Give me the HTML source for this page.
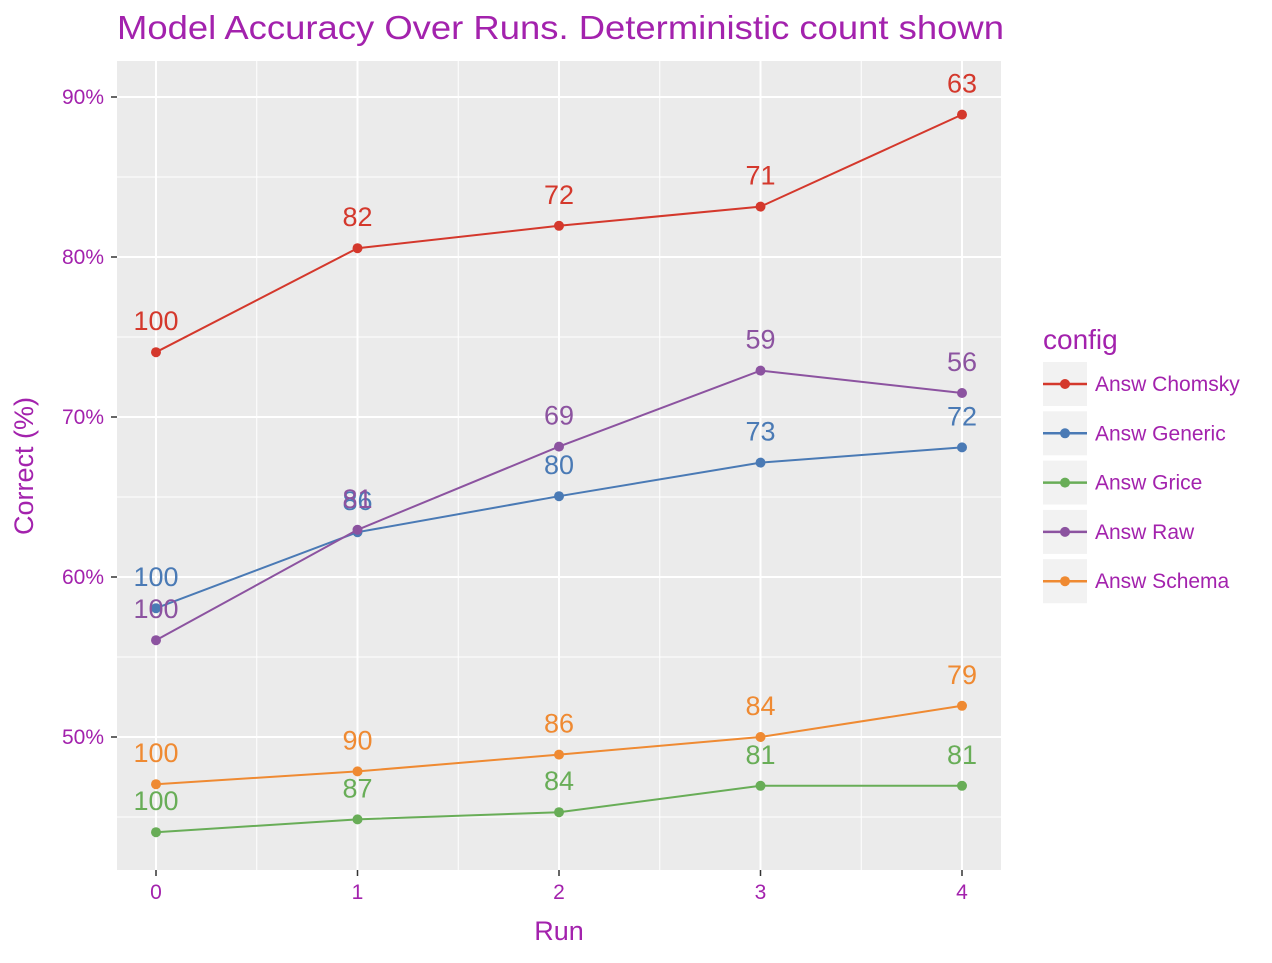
<!DOCTYPE html>
<html><head><meta charset="utf-8"><style>
body{margin:0;background:#fff;}
svg text{font-family:"Liberation Sans",sans-serif;}
</style></head><body>
<svg id="chart" width="1272" height="958" xmlns="http://www.w3.org/2000/svg">
<rect x="0" y="0" width="1272" height="958" fill="#fff"/>
<text x="117" y="39" font-size="33" fill="#a322ad" textLength="887" lengthAdjust="spacingAndGlyphs">Model Accuracy Over Runs. Deterministic count shown</text>
<rect x="117" y="61" width="884" height="809" fill="#ebebeb"/>
<g id="grid"></g><g id="series"></g><g id="axes"></g><g id="legend"></g>
<text x="559" y="940" font-size="27" fill="#a322ad" text-anchor="middle">Run</text>
<text transform="translate(33,466) rotate(-90)" font-size="27" fill="#a322ad" text-anchor="middle">Correct (%)</text>
</svg>
<script>
const runs=[0,1,2,3,4];
const seriesNames=["Answ Chomsky","Answ Generic","Answ Grice","Answ Raw","Answ Schema"];
const colors=["#d4382c","#4a7ab5","#68ad57","#8c53a0","#ef8a32"];
const chomsky=[74.05,80.55,81.95,83.15,88.9];
const generic=[58.05,62.8,65.05,67.15,68.1];
const grice=[44.05,44.85,45.3,46.95,46.95];
const raw=[56.05,62.95,68.15,72.9,71.5];
const schema=[47.05,47.85,48.9,50.0,51.95];
const chomskyCounts=[100,82,72,71,63];
const genericCounts=[100,86,80,73,72];
const griceCounts=[100,87,84,81,81];
const rawCounts=[100,81,69,59,56];
const schemaCounts=[100,90,86,84,79];
const yTicks=[50,60,70,80,90];
const yMinor=[45,55,65,75,85];
const xMinor=[0.5,1.5,2.5,3.5];
const X=v=>156+v*201.5, Y=v=>737-(v-50)*16;
const NS="http://www.w3.org/2000/svg";
function mk(t,a,p){const e=document.createElementNS(NS,t);for(const k in a)e.setAttribute(k,a[k]);p.appendChild(e);return e;}
const grid=document.getElementById('grid'),axes=document.getElementById('axes'),ser=document.getElementById('series'),leg=document.getElementById('legend');
yMinor.forEach(v=>{const l=mk('line',{x1:117,x2:1001,y1:Y(v),y2:Y(v),stroke:'#fff','stroke-width':1},grid);

});
xMinor.forEach(v=>{const l=mk('line',{x1:X(v),x2:X(v),y1:61,y2:870,stroke:'#fff','stroke-width':1},grid);

});
yTicks.forEach(v=>{const l=mk('line',{x1:117,x2:1001,y1:Y(v),y2:Y(v),stroke:'#fff','stroke-width':2},grid);


mk('line',{x1:111,x2:117,y1:Y(v),y2:Y(v),stroke:'#333','stroke-width':1.5},axes);
const t=mk('text',{x:104,y:Y(v)+7,'font-size':21,fill:'#a322ad','text-anchor':'end'},axes);t.textContent=v+'%';

});
runs.forEach(v=>{const l=mk('line',{x1:X(v),x2:X(v),y1:61,y2:870,stroke:'#fff','stroke-width':2},grid);


mk('line',{x1:X(v),x2:X(v),y1:870,y2:876,stroke:'#333','stroke-width':1.5},axes);
const t=mk('text',{x:X(v),y:899,'font-size':21,fill:'#a322ad','text-anchor':'middle'},axes);t.textContent=v;

});
const data=[chomsky,generic,grice,raw,schema],counts=[chomskyCounts,genericCounts,griceCounts,rawCounts,schemaCounts];
data.forEach((d,i)=>{const g=mk('g',{},ser);


const p=mk('polyline',{points:d.map((v,j)=>X(runs[j])+','+Y(v)).join(' '),fill:'none',stroke:colors[i],'stroke-width':2},g);


d.forEach((v,j)=>{const c=mk('circle',{cx:X(runs[j]),cy:Y(v),r:5,fill:colors[i]},g);


const t=mk('text',{x:X(runs[j]),y:Y(v)-22,'font-size':27,fill:colors[i],'text-anchor':'middle'},g);t.textContent=counts[i][j];

});});
const lt=mk('text',{x:1043,y:349,'font-size':28,fill:'#a322ad'},leg);lt.textContent='config';


seriesNames.forEach((n,i)=>{const y0=362+i*49.3;const g=mk('g',{},leg);


mk('rect',{x:1043,y:y0,width:44,height:44,fill:'#f2f2f2'},g);
mk('line',{x1:1043,x2:1087,y1:y0+22,y2:y0+22,stroke:colors[i],'stroke-width':2.5},g);
mk('circle',{cx:1065,cy:y0+22,r:5,fill:colors[i]},g);
const t=mk('text',{x:1095,y:y0+29,'font-size':21,fill:'#a322ad'},g);t.textContent=n;

});
</script>
</body></html>
